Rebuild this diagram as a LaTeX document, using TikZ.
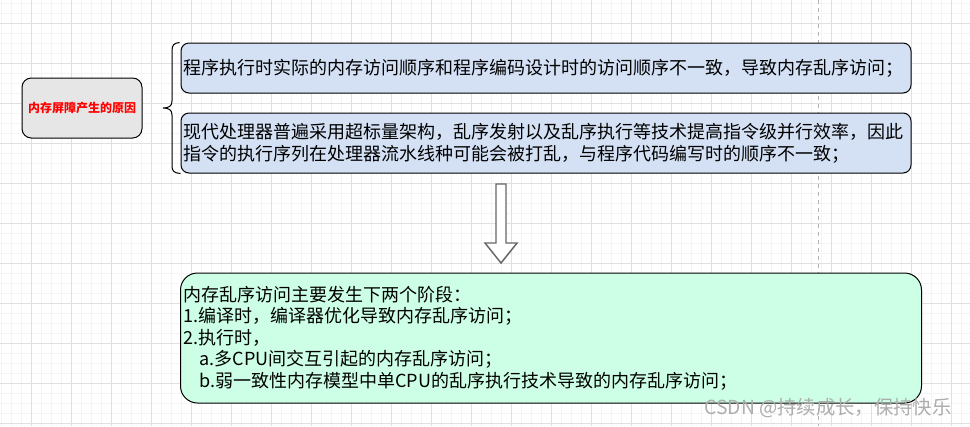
\documentclass[tikz,border=0pt]{standalone}
\usepackage{fontspec}
\setmainfont{Noto Sans CJK SC}

\definecolor{causefill}{HTML}{E6E6E6}
\definecolor{reasonfill}{HTML}{D4E1F5}
\definecolor{stagefill}{HTML}{CCFFE6}
\definecolor{gridminor}{HTML}{F4F4F4}
\definecolor{gridmajor}{HTML}{E0E0E0}

\tikzset{
  cause/.style={draw,fill=causefill,rounded corners=7pt,line width=0.75pt,
    minimum width=90pt,minimum height=45pt,text=red,
    font=\fontsize{9}{11}\selectfont\bfseries},
  reason/.style={draw,fill=reasonfill,rounded corners=6pt,line width=0.75pt,
    inner xsep=1.5pt,inner ysep=0pt,text width=544.5pt,align=left,
    font=\fontsize{13.5}{16.5}\selectfont},
  stage/.style={draw,fill=stagefill,rounded corners=12.75pt,line width=0.75pt,
    inner xsep=2.25pt,inner ysep=0pt,text width=551.25pt,align=left,
    minimum height=97.5pt,font=\fontsize{13.5}{16.1}\selectfont},
}

\begin{document}
\begin{tikzpicture}[x=0.75pt,y=-0.75pt]
  \useasboundingbox (0,0) rectangle (970,426);
  \fill[white] (0,0) rectangle (970,426);
  % grid
  \foreach \x in {1,11,...,961} \draw[gridminor] (\x,0) -- (\x,426);
  \foreach \y in {3,13,...,423} \draw[gridminor] (0,\y) -- (970,\y);
  \foreach \x in {31,71,...,951} \draw[gridmajor] (\x,0) -- (\x,426);
  \foreach \y in {23,63,...,423} \draw[gridmajor] (0,\y) -- (970,\y);
  \draw[black!30,dash pattern=on 3pt off 3pt] (818.5,0) -- (818.5,426);

  \draw
    (82,108) node[cause] (cause){内存屏障产生的原因}
    (546,68) node[reason,minimum height=37.5pt] (order){程序执行时实际的内存访问顺序和程序编码设计时的访问顺序不一致，导致内存乱序访问；}
    (546,143) node[reason,minimum height=45pt] (pipeline){现代处理器普遍采用超标量架构，乱序发射以及乱序执行等技术提高指令级并行效率，因此\\指令的执行序列在处理器流水线种可能会被打乱，与程序代码编写时的顺序不一致；}
    (551,338) node[stage] (stages){内存乱序访问主要发生下两个阶段：\\1.编译时，编译器优化导致内存乱序访问；\\2.执行时，\\\hspace*{12pt}a.多CPU间交互引起的内存乱序访问；\\\hspace*{12pt}b.弱一致性内存模型中单CPU的乱序执行技术导致的内存乱序访问；};

  % brace
  \draw[line width=0.75pt]
    (order.north west) ++(-1,0) .. controls (174,43) and (172,45) .. (172,51)
    -- (172,101) .. controls (172,106) and (169,108) .. (163,108)
    .. controls (169,108) and (172,110) .. (172,115)
    -- (172,166) .. controls (172,171) and (174,173) .. (pipeline.south west);

  % block arrow
  \draw[black!60,line width=1.1pt,fill=white]
    (496,184) -- (506,184) -- (506,243) -- (517,243) -- (501,263)
    -- (485,243) -- (496,243) -- cycle;

  \node[text=black!32,font=\fontsize{14.5}{16}\selectfont] (mark) at (828,408) {CSDN @持续成长，保持快乐};
\end{tikzpicture}
\end{document}
